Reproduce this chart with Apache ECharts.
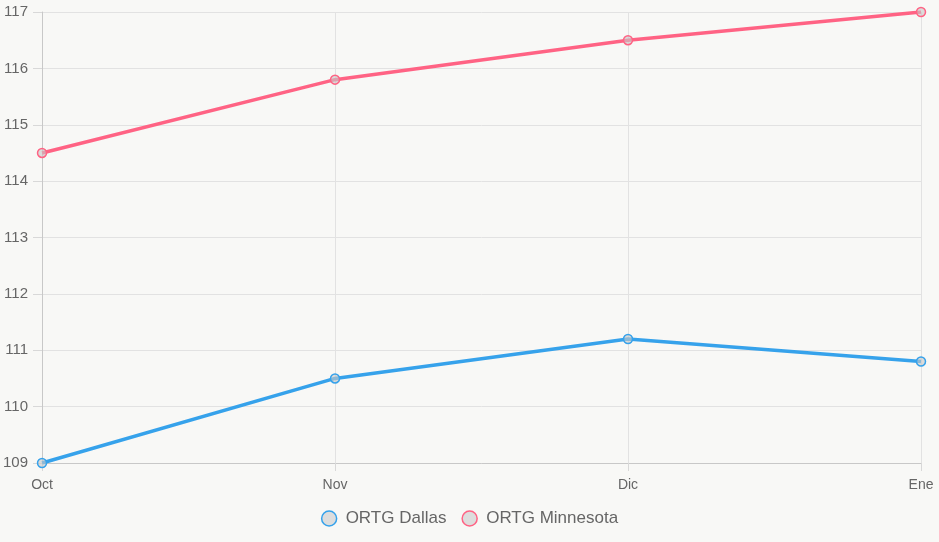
<!DOCTYPE html>
<html>
<head>
<meta charset="utf-8">
<script src="https://cdn.jsdelivr.net/npm/echarts@6/dist/echarts.min.js"></script>
<style>
html,body{margin:0;padding:0;background:#f8f8f6;}
#c{width:939px;height:542px;}
</style>
</head>
<body>
<div id="c"></div>
<script>
const categories = ['Oct', 'Nov', 'Dic', 'Ene'];
const dallas = [109, 110.5, 111.2, 110.8];
const minnesota = [114.5, 115.8, 116.5, 117];
const seriesNames = ['ORTG Dallas', 'ORTG Minnesota'];
const colors = ['#36a2eb', '#ff6384'];

const chart = echarts.init(document.getElementById('c'));
const font = 'Liberation Sans, Arial, sans-serif';
function mkSeries(name, data, color) {
  return {
    name: name, type: 'line', data: data,
    symbol: 'circle', symbolSize: 9,
    lineStyle: {color: color, width: 3.5},
    itemStyle: {color: 'rgba(200,200,200,0.6)', borderColor: color, borderWidth: 1.5},
    emphasis: {disabled: true},
    animation: false
  };
}
chart.setOption({
  backgroundColor: '#f8f8f6',
  animation: false,
  grid: {left: 42, right: 18, top: 12, bottom: 79},
  legend: {
    bottom: 10, left: 'center', icon: 'circle', itemWidth: 15, itemHeight: 15, itemGap: 15,
    textStyle: {color: '#666', fontSize: 17, fontFamily: font, padding: [0, 0, 0, 4]},
    data: seriesNames.map((n, i) => ({name: n, itemStyle: {color: '#dddddd', borderColor: colors[i], borderWidth: 1.5}}))
  },
  xAxis: {
    type: 'category', data: categories, boundaryGap: false,
    axisLine: {lineStyle: {color: '#c8c8c8', width: 1}},
    axisTick: {show: true, length: 8, lineStyle: {color: '#d8d8d8'}},
    axisLabel: {color: '#666', fontSize: 14, fontFamily: font, margin: 15},
    splitLine: {show: true, lineStyle: {color: '#e2e2e2', width: 1}}
  },
  yAxis: {
    type: 'value', min: 109, max: 117, interval: 1,
    axisLine: {show: true, lineStyle: {color: '#c8c8c8', width: 1}},
    axisTick: {show: true, length: 9, lineStyle: {color: '#d8d8d8'}},
    axisLabel: {color: '#666', fontSize: 15, fontFamily: font, margin: 14},
    splitLine: {show: true, lineStyle: {color: '#e2e2e2', width: 1}}
  },
  series: [mkSeries(seriesNames[0], dallas, colors[0]), mkSeries(seriesNames[1], minnesota, colors[1])]
});
</script>
</body>
</html>
